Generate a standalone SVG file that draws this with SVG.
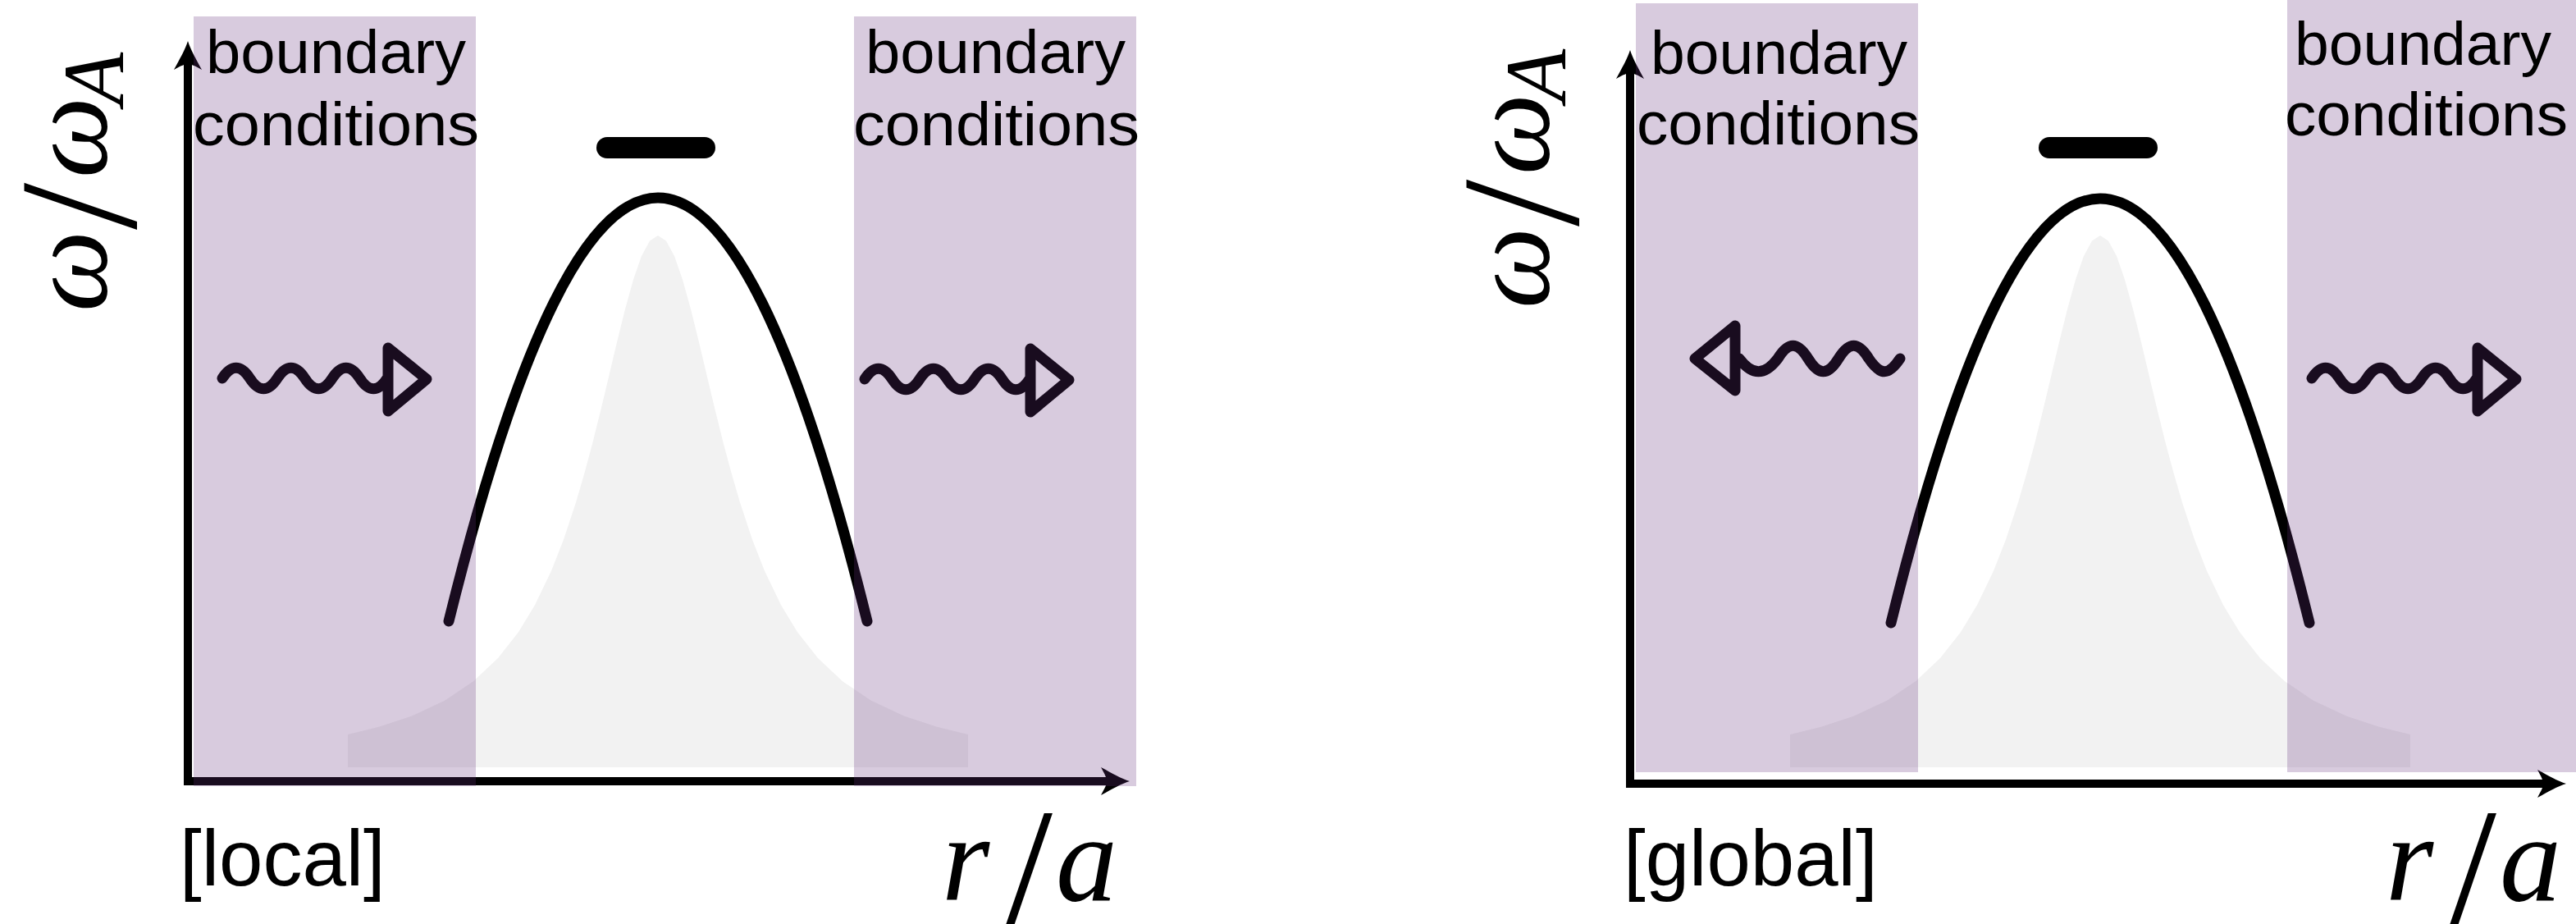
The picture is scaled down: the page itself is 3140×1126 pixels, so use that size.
<svg xmlns="http://www.w3.org/2000/svg" xmlns:xlink="http://www.w3.org/1999/xlink" width="3140" height="1126" viewBox="0 0 3140 1126">
<style>
.bump{fill:#f2f2f2}
.curve{fill:none;stroke:#000;stroke-width:13;stroke-linecap:round}
.bar{stroke:#000;stroke-width:26;stroke-linecap:round}
.axis{stroke:#000;stroke-width:10;fill:none;marker-end:url(#ah)}
.wave{fill:none;stroke:#000;stroke-width:13;stroke-linecap:round;stroke-linejoin:round}
.bc{fill:rgb(100,48,124);fill-opacity:0.25}
.lbl{font-family:"Liberation Sans",Arial,Helvetica,sans-serif;fill:#000}
.bctext{font-size:74px}
.tag{font-size:96px}
.math{font-family:"Liberation Serif","Times New Roman",serif;font-style:italic;fill:#000;font-size:150px}
.om{font-size:140px}
</style>
<defs>
<marker id="ah" markerUnits="userSpaceOnUse" viewBox="-40 -20 45 40" markerWidth="45" markerHeight="40" refX="-20" refY="0" orient="auto">
<path d="M0,0 C-10,-3 -22,-10 -35,-17 C-30,-8 -28,-4 -28,0 C-28,4 -30,8 -35,17 C-22,10 -10,3 0,0 Z" fill="#000"/>
</marker>
<path id="wr" d="M0,0 C11,-17 22.5,-17 33.5,0 S56,17 67,0 S89.5,-17 100.5,0 S123,17 134,0 S156.5,-17 167.5,0 S190,17 201,0 M202,-37 L202,40 L249,1 Z"/>
<path id="bumpshape" d="M424,935 L424,895 L462,885.7 L502,872.5 L542,853.7 L577,830.2 L607,802 L632,770.3 L652,737.3 L672,695.7 L687,657.4 L702,612.2 L712,578.1 L722,540.9 L732,500.9 L742,459.2 L752,417.1 L762,376.7 L772,340.7 L782,312 L792,293.4 L802,287 L812,293.4 L822,312 L832,340.7 L842,376.7 L852,417.1 L862,459.2 L872,500.9 L882,540.9 L892,578.1 L902,612.2 L917,657.4 L932,695.7 L952,737.3 L972,770.3 L997,802 L1027,830.2 L1062,853.7 L1102,872.5 L1142,885.7 L1180,895 L1180,935 Z"/>
</defs>
<rect width="3140" height="1126" fill="#fff"/>

<!-- LOCAL PANEL -->
<g id="panel-local">
  <g id="local-bump"><use xlink:href="#bumpshape" class="bump"/></g>
  <g id="local-connectors">
    <line class="axis" x1="229" y1="957" x2="229" y2="70"/>
    <line class="axis" x1="224" y1="952" x2="1357" y2="952"/>
  </g>
  <g id="local-continuum"><path class="curve" d="M547,757 Q802,-275 1057,757"/></g>
  <g id="local-mode"><line class="bar" x1="740" y1="180" x2="859" y2="180"/></g>
  <g id="local-wave-left"><use xlink:href="#wr" class="wave" transform="translate(271,461)"/></g>
  <g id="local-wave-right"><use xlink:href="#wr" class="wave" transform="translate(1054,462)"/></g>
  <g id="local-bc-left">
    <rect class="bc" x="236" y="20" width="344" height="938"/>
    <text class="lbl bctext" x="251" y="89" textLength="317" lengthAdjust="spacingAndGlyphs">boundary</text>
    <text class="lbl bctext" x="235" y="177" textLength="349" lengthAdjust="spacingAndGlyphs">conditions</text>
  </g>
  <g id="local-bc-right">
    <rect class="bc" x="1041" y="20" width="344" height="938"/>
    <text class="lbl bctext" x="1055" y="89" textLength="317" lengthAdjust="spacingAndGlyphs">boundary</text>
    <text class="lbl bctext" x="1040" y="177" textLength="349" lengthAdjust="spacingAndGlyphs">conditions</text>
  </g>
  <g id="local-ylabel" transform="translate(130,380) rotate(-90)">
    <text class="math"><tspan class="om" x="0" y="0">ω</tspan><tspan x="100" y="35" font-size="206" font-style="normal">/</tspan><tspan class="om" x="163" y="0">ω</tspan><tspan x="252" y="20" font-size="105">A</tspan></text>
  </g>
  <g id="local-xlabel">
    <text class="math"><tspan x="1148" y="1097">r</tspan><tspan x="1224" y="1131" font-size="212" font-style="normal">/</tspan><tspan x="1287" y="1097">a</tspan></text>
  </g>
  <g id="local-tag"><text class="lbl tag" x="219" y="1079">[local]</text></g>
</g>

<!-- GLOBAL PANEL -->
<g id="panel-global">
  <g id="global-bump"><use xlink:href="#bumpshape" class="bump" transform="translate(1758,0)"/></g>
  <g id="global-connectors">
    <line class="axis" x1="1987" y1="960" x2="1987" y2="81"/>
    <line class="axis" x1="1982" y1="955" x2="3108" y2="955"/>
  </g>
  <g id="global-continuum"><path class="curve" d="M2305,759 Q2560,-275 2815,759"/></g>
  <g id="global-mode"><line class="bar" x1="2498" y1="180" x2="2617" y2="180"/></g>
  <g id="global-wave-left">
    <path class="wave" d="M2115,397 L2115,476 L2066,437 Z M2120,437 C2136,458 2151,458 2167,437 C2180,416 2191,416 2204,437 C2217,458 2228,458 2241,437 C2254,416 2265,416 2278,437 C2292,458 2302,458 2316,437"/>
  </g>
  <g id="global-wave-right"><use xlink:href="#wr" class="wave" transform="translate(2818,461)"/></g>
  <g id="global-bc-left">
    <rect class="bc" x="1994" y="4" width="344" height="937"/>
    <text class="lbl bctext" x="2012" y="90" textLength="313" lengthAdjust="spacingAndGlyphs">boundary</text>
    <text class="lbl bctext" x="1995" y="176" textLength="345" lengthAdjust="spacingAndGlyphs">conditions</text>
  </g>
  <g id="global-bc-right">
    <rect class="bc" x="2788" y="0" width="352" height="941"/>
    <text class="lbl bctext" x="2797" y="79" textLength="313" lengthAdjust="spacingAndGlyphs">boundary</text>
    <text class="lbl bctext" x="2785" y="165" textLength="345" lengthAdjust="spacingAndGlyphs">conditions</text>
  </g>
  <g id="global-ylabel" transform="translate(1888,376) rotate(-90)">
    <text class="math"><tspan class="om" x="0" y="0">ω</tspan><tspan x="100" y="35" font-size="206" font-style="normal">/</tspan><tspan class="om" x="163" y="0">ω</tspan><tspan x="252" y="20" font-size="105">A</tspan></text>
  </g>
  <g id="global-xlabel">
    <text class="math"><tspan x="2908" y="1097">r</tspan><tspan x="2984" y="1131" font-size="212" font-style="normal">/</tspan><tspan x="3047" y="1097">a</tspan></text>
  </g>
  <g id="global-tag"><text class="lbl tag" x="1979" y="1079">[global]</text></g>
</g>
</svg>
